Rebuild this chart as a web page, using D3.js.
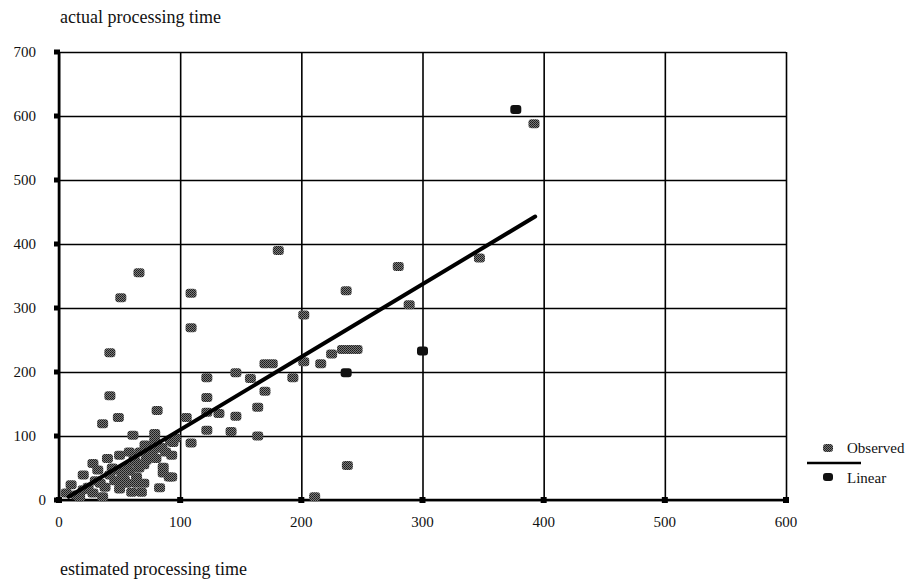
<!DOCTYPE html>
<html>
<head>
<meta charset="utf-8">
<script src="https://cdn.jsdelivr.net/npm/d3@7"></script>
<style>
  body { margin: 0; background: #fff; }
  text { font-family: "Liberation Serif", "Times New Roman", serif; fill: #111; }
</style>
</head>
<body>
<div id="chart"></div>
<script>
// observed points (estimated, actual)
var obsX = [392, 66, 51, 109, 109, 42, 122, 42, 122, 181, 237, 280, 202, 289, 347,
    234, 240, 246, 225, 216, 202, 170, 176, 193, 146, 158, 170, 164, 81, 105,
    122, 132, 146, 122, 142, 164, 92, 109, 81, 93, 86, 86, 93, 238, 211,
    36, 49, 61, 79, 6, 10, 17, 20, 20, 28, 28, 32, 34, 36, 40,
    42, 48, 50, 50, 50, 54, 56, 58, 60, 63, 64, 67, 68, 71, 72,
    75, 79, 77, 83, 91, 94, 56, 64, 70, 14, 24, 30, 38, 44, 46,
    52, 58, 62, 66, 70, 74, 80, 85, 88, 96];
var obsY = [588, 355, 316, 323, 269, 230, 191, 163, 160, 390, 327, 365, 289, 305, 378,
    235, 235, 235, 228, 213, 216, 213, 213, 191, 199, 190, 170, 145, 140, 129,
    137, 135, 131, 109, 107, 100, 93, 89, 81, 70, 51, 42, 36, 54, 5,
    119, 129, 101, 104, 11, 24, 5, 16, 39, 11, 57, 47, 26, 5, 65,
    39, 47, 70, 17, 28, 31, 51, 75, 12, 59, 36, 75, 12, 86, 62,
    81, 93, 75, 19, 36, 90, 26, 26, 26, 8, 20, 30, 20, 50, 30,
    40, 45, 68, 50, 55, 70, 65, 82, 75, 97];
// "Linear" series markers
var linX = [377, 300, 237];
var linY = [610, 233, 199];
// fitted line ends
var fitX = [8, 393];
var fitY = [5, 443];

var xTicks = [0, 100, 200, 300, 400, 500, 600];
var yTicks = [0, 100, 200, 300, 400, 500, 600, 700];

var W = 913, H = 588;
var mLeft = 59, mRight = 786, mTop = 52, mBottom = 500;

var svg = d3.select("#chart").append("svg")
    .attr("width", W)
    .attr("height", H);

var defs = svg.append("defs");
var pat = defs.append("pattern")
    .attr("id", "hatch")
    .attr("width", 2).attr("height", 2)
    .attr("patternUnits", "userSpaceOnUse");
pat.append("rect").attr("width", 2).attr("height", 2).attr("fill", "#7a7a7a");
pat.append("rect").attr("width", 1).attr("height", 1).attr("fill", "#1a1a1a");
pat.append("rect").attr("x", 1).attr("y", 1).attr("width", 1).attr("height", 1).attr("fill", "#2a2a2a");

var x = d3.scaleLinear().domain([0, 600]).range([mLeft, mRight]);
var y = d3.scaleLinear().domain([0, 700]).range([mBottom, mTop]);

// grid
svg.append("g")
    .attr("transform", "translate(0," + mBottom + ")")
    .call(d3.axisBottom(x).tickValues(xTicks).tickFormat("").tickSize(-(mBottom - mTop)))
    .call(function (g) { g.select(".domain").remove(); })
    .selectAll("line").attr("stroke", "#000").attr("stroke-width", 1.6);

svg.append("g")
    .attr("transform", "translate(" + mLeft + ",0)")
    .call(d3.axisLeft(y).tickValues(yTicks).tickFormat("").tickSize(-(mRight - mLeft)))
    .call(function (g) { g.select(".domain").remove(); })
    .selectAll("line").attr("stroke", "#000").attr("stroke-width", 1.6);

// axis lines
svg.append("line").attr("x1", mLeft).attr("x2", mLeft).attr("y1", mTop).attr("y2", mBottom)
    .attr("stroke", "#000").attr("stroke-width", 2.6);
svg.append("line").attr("x1", mLeft).attr("x2", mRight).attr("y1", mBottom).attr("y2", mBottom)
    .attr("stroke", "#000").attr("stroke-width", 2.6);

// tick squares
svg.selectAll(".xsq").data(xTicks).enter().append("rect")
    .attr("x", function (d) { return x(d) - 3; })
    .attr("y", mBottom - 3).attr("width", 6).attr("height", 6).attr("fill", "#000");
svg.selectAll(".ysq").data(yTicks).enter().append("rect")
    .attr("x", mLeft - 5)
    .attr("y", function (d) { return y(d) - 2.5; }).attr("width", 6).attr("height", 5).attr("fill", "#000");

// tick labels
svg.selectAll(".xl").data(xTicks).enter().append("text")
    .attr("x", function (d) { return x(d); })
    .attr("y", mBottom + 27)
    .attr("text-anchor", "middle")
    .style("font-size", "15px")
    .text(function (d) { return d; });
svg.selectAll(".yl").data(yTicks).enter().append("text")
    .attr("x", function (d) { return d === 0 ? mLeft - 13 : mLeft - 23; })
    .attr("y", function (d) { return y(d) + 5; })
    .attr("text-anchor", "end")
    .style("font-size", "15px")
    .text(function (d) { return d; });

// titles
svg.append("text").attr("x", 60).attr("y", 23).style("font-size", "18px").text("actual processing time");
svg.append("text").attr("x", 60).attr("y", 575).style("font-size", "18px").text("estimated processing time");

// observed markers
var obs = obsX.map(function (v, i) { return [v, obsY[i]]; });
svg.append("g").selectAll("rect").data(obs).enter().append("rect")
    .attr("x", function (d) { return x(d[0]) - 5.5; })
    .attr("y", function (d) { return y(d[1]) - 4.5; })
    .attr("width", 11).attr("height", 9).attr("rx", 3)
    .attr("fill", "url(#hatch)");

// fitted line
var line = d3.line().x(function (d) { return x(d[0]); }).y(function (d) { return y(d[1]); });
svg.append("path")
    .attr("d", line(fitX.map(function (v, i) { return [v, fitY[i]]; })))
    .attr("stroke", "#000").attr("stroke-width", 4).attr("fill", "none")
    .attr("stroke-linecap", "round");

// linear markers
var lin = linX.map(function (v, i) { return [v, linY[i]]; });
svg.append("g").selectAll("rect").data(lin).enter().append("rect")
    .attr("x", function (d) { return x(d[0]) - 5.5; })
    .attr("y", function (d) { return y(d[1]) - 4.5; })
    .attr("width", 11).attr("height", 9).attr("rx", 3)
    .attr("fill", "#111");

// legend
var lg = svg.append("g");
lg.append("rect").attr("x", 823).attr("y", 444).attr("width", 10).attr("height", 8).attr("rx", 3)
    .attr("fill", "url(#hatch)");
lg.append("text").attr("x", 847).attr("y", 453).style("font-size", "15px").text("Observed");
lg.append("line").attr("x1", 807).attr("x2", 861).attr("y1", 463).attr("y2", 463)
    .attr("stroke", "#000").attr("stroke-width", 2.5);
lg.append("rect").attr("x", 823).attr("y", 473).attr("width", 10).attr("height", 8).attr("rx", 3)
    .attr("fill", "#111");
lg.append("text").attr("x", 847).attr("y", 483).style("font-size", "15px").text("Linear");
</script>
</body>
</html>
